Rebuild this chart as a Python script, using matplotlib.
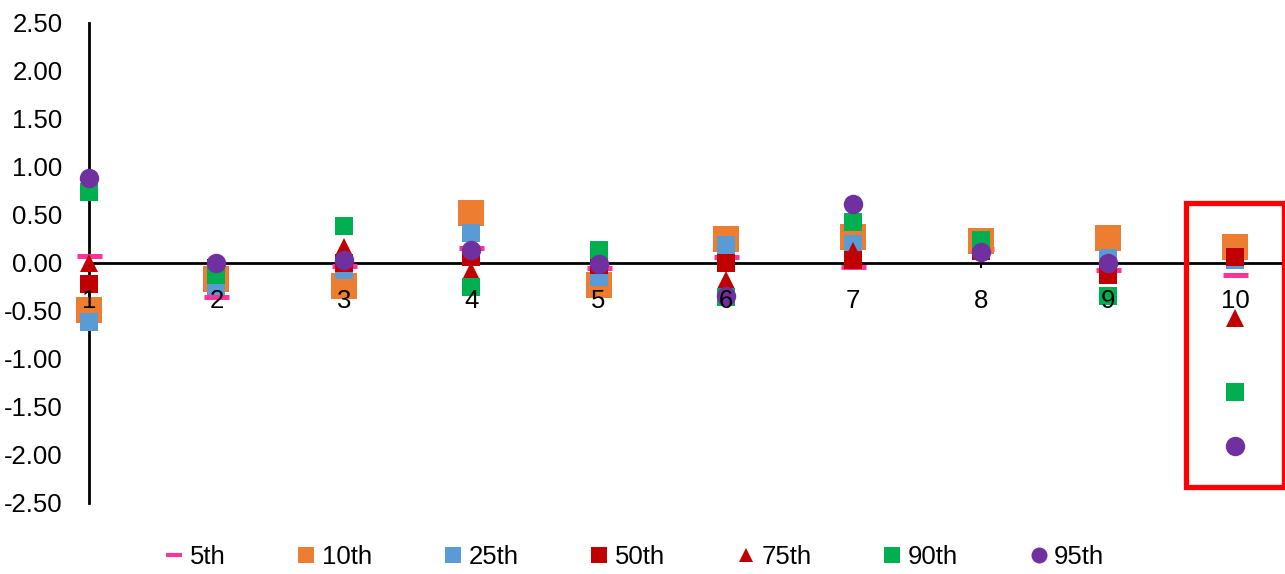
import numpy as np
import matplotlib.pyplot as plt
from matplotlib.patches import Rectangle
from matplotlib.lines import Line2D
from matplotlib.ticker import FormatStrFormatter

# decile groups on the x axis
categories = [1, 2, 3, 4, 5, 6, 7, 8, 9, 10]

# percentile series
p5 = [0.07, -0.35, -0.03, 0.16, -0.05, 0.06, -0.04, 0.15, -0.07, -0.13]
p10 = [-0.49, -0.17, -0.24, 0.52, -0.23, 0.25, 0.27, 0.23, 0.26, 0.17]
p25 = [-0.61, -0.24, -0.07, 0.31, -0.15, 0.19, 0.20, 0.20, 0.05, 0.03]
p50 = [-0.22, -0.05, 0.00, 0.06, -0.02, 0.00, 0.03, 0.12, -0.13, 0.06]
p75 = [0.00, -0.10, 0.17, -0.08, 0.00, -0.18, 0.12, 0.15, -0.10, -0.57]
p90 = [0.74, -0.13, 0.38, -0.25, 0.14, -0.35, 0.43, 0.24, -0.34, -1.34]
p95 = [0.88, 0.00, 0.03, 0.13, -0.01, -0.34, 0.61, 0.11, 0.00, -1.91]

series_labels = ["5th", "10th", "25th", "50th", "75th", "90th", "95th"]

plt.rcParams["font.family"] = ["Liberation Sans", "DejaVu Sans"]

fig = plt.figure(figsize=(12.85, 5.74), dpi=100)
ax = fig.add_axes([0.0693, 0.1237, 0.9307, 0.8363])

x = np.array(categories)
styles = [
    (p5, dict(marker="_", color="#FF3399", markersize=18, markeredgewidth=3.6)),
    (p10, dict(marker="s", color="#ED7D31", markersize=19, markeredgewidth=0)),
    (p25, dict(marker="s", color="#5B9BD5", markersize=13.5, markeredgewidth=0)),
    (p50, dict(marker="s", color="#C00000", markersize=13.5, markeredgewidth=0)),
    (p75, dict(marker="^", color="#C00000", markersize=12.5, markeredgewidth=0)),
    (p90, dict(marker="s", color="#00B050", markersize=13.5, markeredgewidth=0)),
    (p95, dict(marker="o", color="#7030A0", markersize=14, markeredgewidth=0)),
]
for vals, kw in styles:
    ax.plot(x, vals, linestyle="none", zorder=3, clip_on=False, **kw)

ax.set_xlim(1, 10.39)
ax.set_ylim(-2.5, 2.5)
ax.set_yticks(np.arange(-2.5, 2.51, 0.5))
ax.yaxis.set_major_formatter(FormatStrFormatter("%.2f"))
ax.set_xticks(categories)

for s in ["top", "right"]:
    ax.spines[s].set_visible(False)
ax.spines["left"].set_linewidth(2)
ax.spines["bottom"].set_position(("data", 0))
ax.spines["bottom"].set_linewidth(2)
ax.spines["bottom"].set_zorder(2)

ax.tick_params(axis="y", length=0, pad=19, labelsize=18.5)
# tick marks are drawn separately so they stay behind the markers,
# while the category numbers sit on top of them
ax.tick_params(axis="x", length=0, pad=19, labelsize=18.5)
ax.xaxis.set_zorder(5)
ax.vlines(x, -0.055, 0, color="black", linewidth=1.5, zorder=2)

# highlight box around the last group
ax.add_patch(Rectangle((9.61, -2.33), 0.77, 2.955, fill=False,
                       edgecolor="#FF0000", linewidth=3.8, zorder=4, clip_on=False))

# legend keys are drawn at a common smaller size
handles = []
for vals, kw in styles:
    k = dict(kw)
    if k["marker"] == "_":
        k["markersize"] = 12
        k["markeredgewidth"] = 3
    elif k["marker"] == "^":
        k["markersize"] = 10.5
    else:
        k["markersize"] = 11.5
    handles.append(Line2D([], [], linestyle="none", **k))

fig.legend(handles, series_labels, loc="center", ncol=7, frameon=False, fontsize=18.5,
           bbox_to_anchor=(0.494, 0.0296), handlelength=0.7, handletextpad=0.25,
           columnspacing=2.8)

fig.savefig("out.png", dpi=100)
